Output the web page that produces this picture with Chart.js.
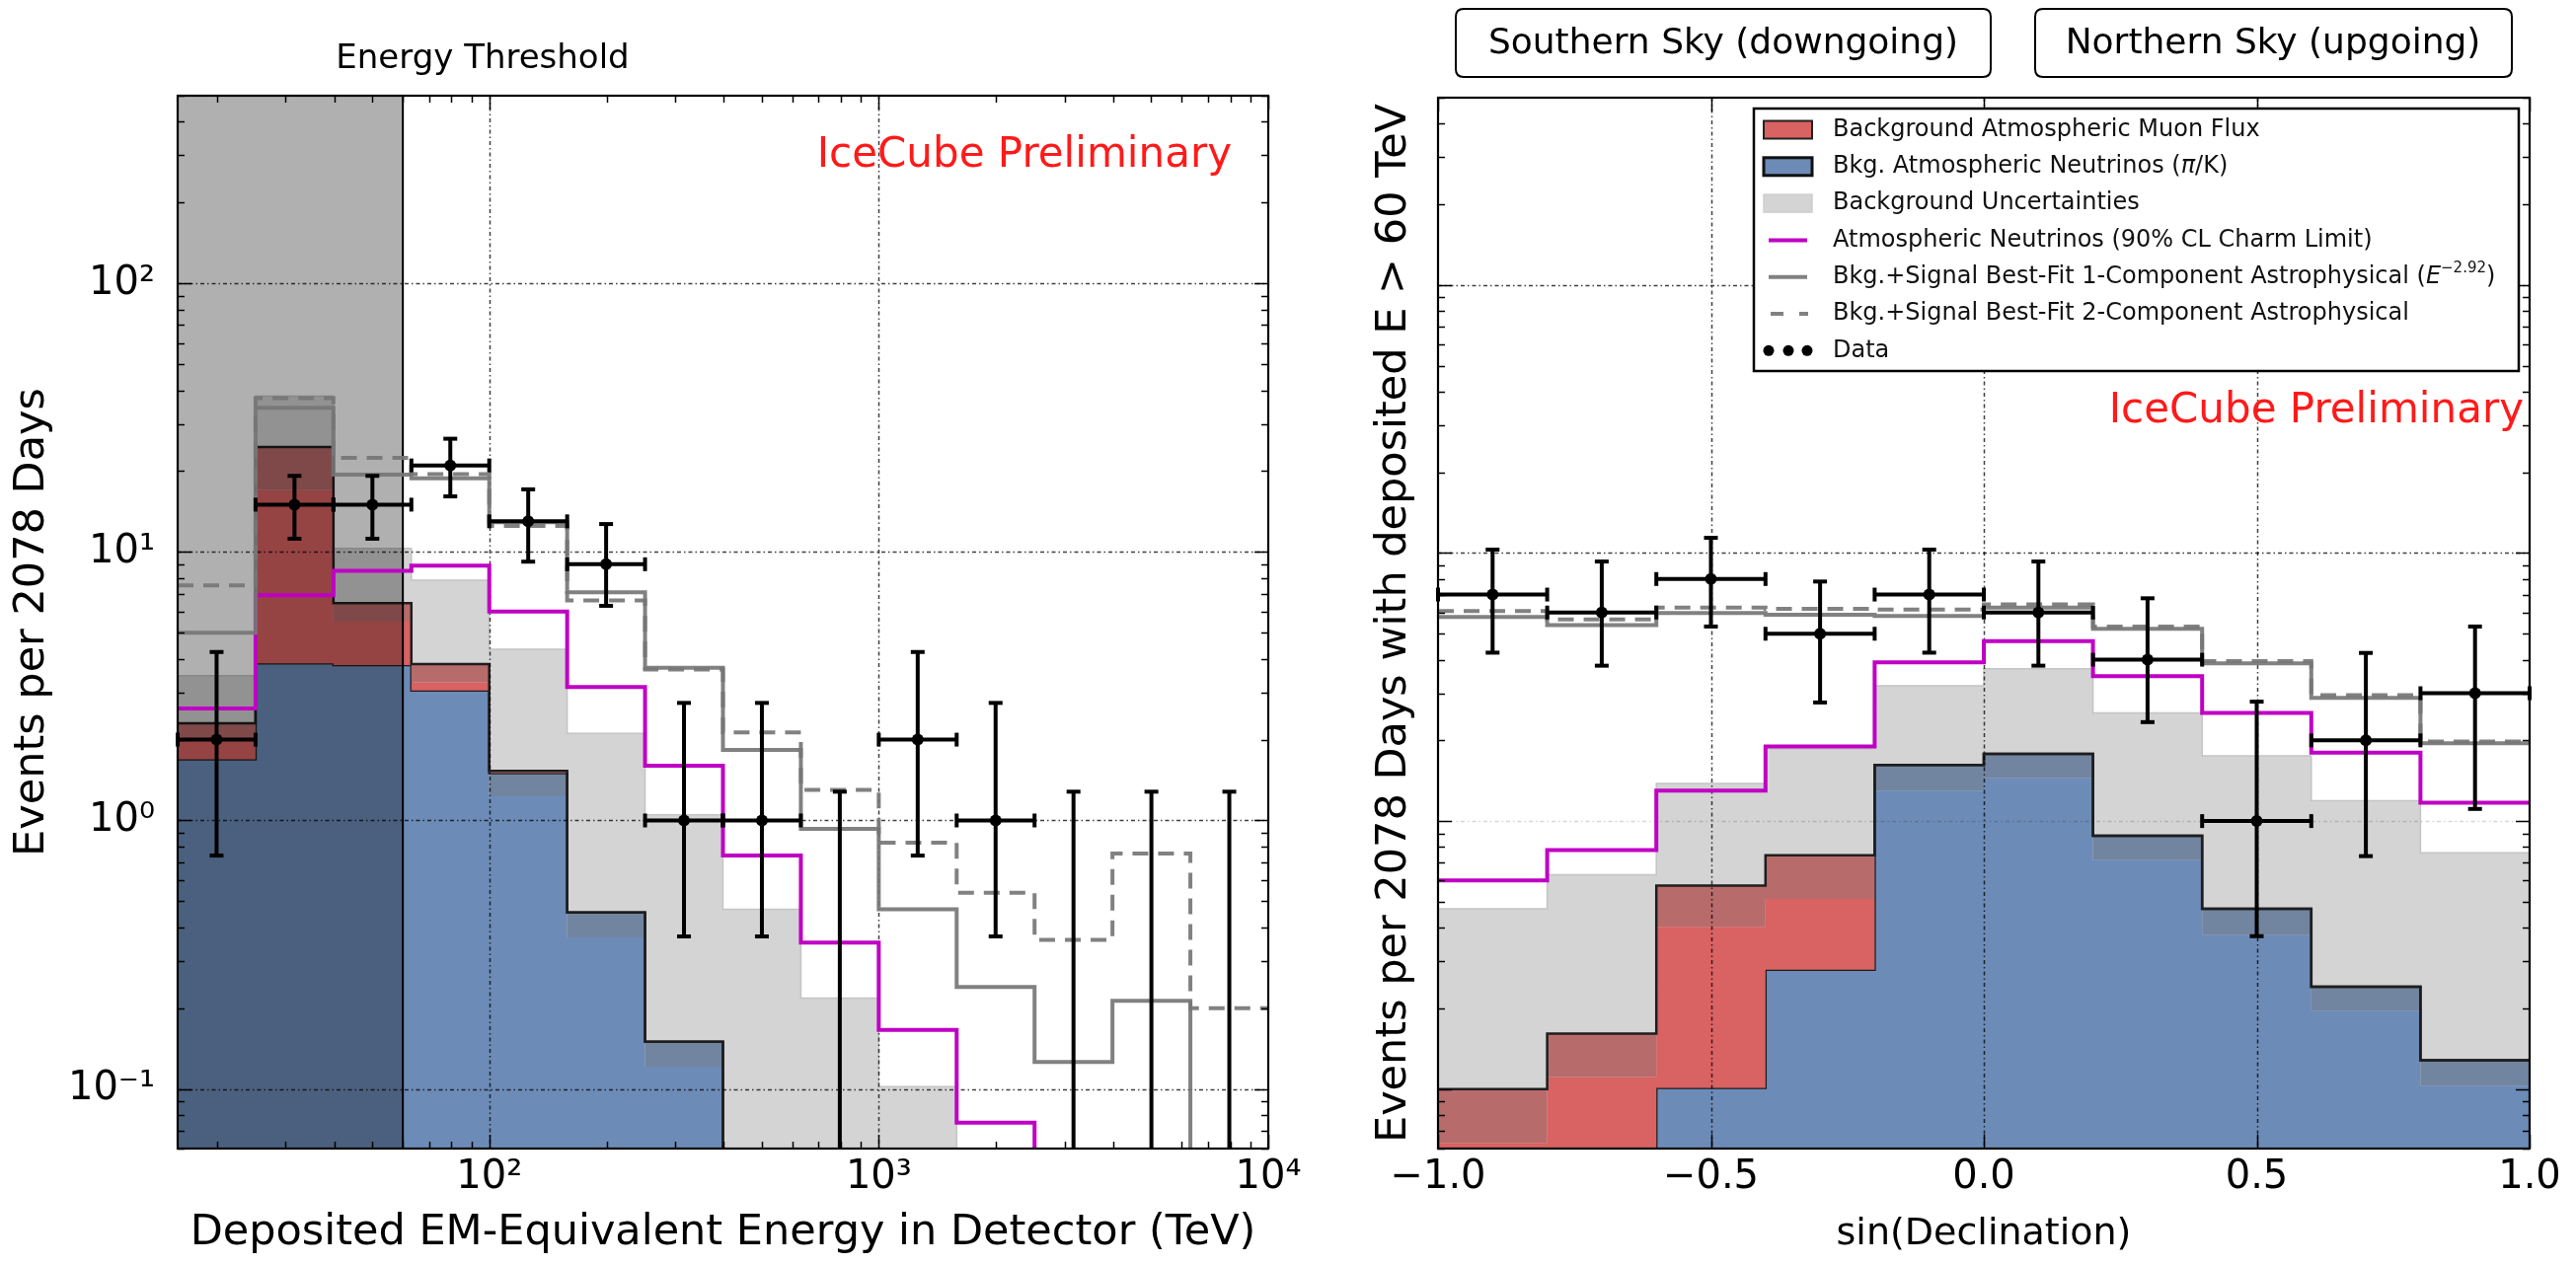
<!DOCTYPE html>
<html>
<head>
<meta charset="utf-8">
<title>HESE events: deposited energy and declination</title>
<script src="https://cdn.jsdelivr.net/npm/chart.js@4.4.1/dist/chart.umd.min.js"></script>
<style>
  html, body { margin: 0; padding: 0; background: #fff; }
  #wrap { position: relative; width: 2610px; height: 1282px; overflow: hidden; }
  #energy { position: absolute; left: 0; top: 0; }
  #dec { position: absolute; left: 1340px; top: 0; }
</style>
</head>
<body>
<div id="wrap">
  <canvas id="energy" width="1340" height="1282"></canvas>
  <canvas id="dec" width="1270" height="1282"></canvas>
</div>
<script>
var FONT = "'DejaVu Sans', 'Noto Sans', sans-serif";
var FLOOR = 1e-4;   // empty bins sit below the log axis floor

// ---------- energy spectrum (0.2 decade bins, TeV) ----------
var eEdges = [15.85, 25.12, 39.81, 63.10, 100, 158.5, 251.2, 398.1, 631.0, 1000, 1585, 2512, 3981, 6310, 10000];
var eThreshold = 60;
var eBkgUnc   = [3.46, 38, 10.3, 7.85, 4.34, 2.11, 1.05, 0.467, 0.218, 0.102, 0, 0, 0, 0];
var eNuLow    = [1.69, 3.85, 3.79, 3.05, 1.23, 0.367, 0.121, 0, 0, 0, 0, 0, 0, 0];
var eNuTop    = [1.69, 3.85, 3.79, 3.05, 1.50, 0.454, 0.150, 0, 0, 0, 0, 0, 0, 0];
var eMuLow    = [2.0, 17.0, 5.5, 3.27, 1.50, 0.454, 0.150, 0, 0, 0, 0, 0, 0, 0];
var eMuTop    = [2.3, 24.6, 6.44, 3.82, 1.53, 0.454, 0.150, 0, 0, 0, 0, 0, 0, 0];
var eCharm    = [2.61, 6.9, 8.5, 8.9, 6.0, 3.14, 1.6, 0.741, 0.351, 0.166, 0.075, 0, 0, 0];
var eFit1     = [5.0, 34.4, 19.4, 18.8, 12.9, 7.07, 3.7, 1.83, 0.93, 0.467, 0.24, 0.126, 0.213, 0];
var eFit2     = [7.5, 37.4, 22.4, 19.5, 12.5, 6.6, 3.65, 2.13, 1.30, 0.826, 0.538, 0.359, 0.753, 0.20];
var eCounts   = [2, 15, 15, 21, 13, 9, 1, 1, 0, 2, 1, 0, 0, 0];
var eCountsLo = [0.74, 11.2, 11.2, 16.1, 9.2, 6.3, 0.37, 0.37, 0, 0.74, 0.37, 0, 0, 0];
var eCountsHi = [4.24, 19.2, 19.2, 26.4, 17.1, 12.7, 2.74, 2.74, 1.28, 4.24, 2.74, 1.28, 1.28, 1.28];

// ---------- sin(declination), E > 60 TeV ----------
var dEdges = [-1.0, -0.8, -0.6, -0.4, -0.2, 0.0, 0.2, 0.4, 0.6, 0.8, 1.0];
var dBkgUnc   = [0.471, 0.63, 1.38, 1.86, 3.2, 3.7, 2.53, 1.75, 1.19, 0.762];
var dNuLow    = [0, 0, 0.101, 0.279, 1.30, 1.45, 0.714, 0.375, 0.196, 0.103];
var dNuTop    = [0, 0, 0.101, 0.279, 1.62, 1.78, 0.881, 0.471, 0.241, 0.128];
var dMuLow    = [0.063, 0.111, 0.403, 0.512, 1.62, 1.78, 0.881, 0.471, 0.241, 0.128];
var dMuTop    = [0.100, 0.161, 0.575, 0.746, 1.62, 1.78, 0.881, 0.471, 0.241, 0.128];
var dCharm    = [0.60, 0.78, 1.30, 1.90, 3.91, 4.69, 3.47, 2.53, 1.80, 1.17];
var dFit1     = [5.78, 5.38, 5.97, 5.89, 5.82, 6.26, 5.22, 3.88, 2.88, 1.95];
var dFit2     = [6.08, 5.66, 6.26, 6.2, 6.15, 6.44, 5.32, 3.95, 2.95, 1.98];
var dCounts   = [7, 6, 8, 5, 7, 6, 4, 1, 2, 3];
var dCountsLo = [4.25, 3.8, 5.32, 2.77, 4.25, 3.8, 2.34, 0.372, 0.74, 1.11];
var dCountsHi = [10.3, 9.3, 11.4, 7.83, 10.3, 9.3, 6.78, 2.79, 4.24, 5.32];

var yMin = 0.06, yMax = 500;

var legendLabels = [
  'Background Atmospheric Muon Flux',
  'Bkg. Atmospheric Neutrinos (π/K)',
  'Background Uncertainties',
  'Atmospheric Neutrinos (90% CL Charm Limit)',
  'Bkg.+Signal Best-Fit 1-Component Astrophysical (E−2.92)',
  'Bkg.+Signal Best-Fit 2-Component Astrophysical',
  'Data'
];

var C = {
  band: '#d4d4d4', bandEdge: '#c4c4c4',
  blue: '#6c8bb7', blueBand: '#7185a1',
  red: '#d96262', redBand: '#b86b6b',
  edge: '#1e1e1e', magenta: '#bf00c4',
  fit: 'rgba(118,118,118,0.92)', shade: 'rgba(0,0,0,0.31)',
  label: '#ff1a1a'
};

function stepData(edges, vals) {
  var pts = vals.map(function (v, i) { return { x: edges[i], y: v > 0 ? v : FLOOR }; });
  pts.push({ x: edges[edges.length - 1], y: pts[pts.length - 1].y });
  return pts;
}

function histSet(edges, vals, opts) {
  var ds = { data: stepData(edges, vals), stepped: true, tension: 0, pointRadius: 0,
             borderWidth: 0, borderColor: 'rgba(0,0,0,0)', fill: false };
  for (var k in opts) ds[k] = opts[k];
  return ds;
}

function pointSet(centers, counts) {
  var pts = [];
  counts.forEach(function (n, i) { if (n > 0) pts.push({ x: centers[i], y: n }); });
  return { data: pts, showLine: false, pointRadius: 6, pointBackgroundColor: '#000',
           pointBorderWidth: 0, order: 1 };
}

// stacked background (nu + muon) with bands, plus model lines
function modelSets(edges, bkg, nuLow, nuTop, muLow, muTop, charm, fit1, fit2, extra) {
  var sets = [
    histSet(edges, bkg,   { order: 20, fill: 'start', backgroundColor: C.band, borderColor: C.bandEdge, borderWidth: 1.5 }),
    histSet(edges, nuLow, { order: 19, fill: 'start', backgroundColor: C.blue }),
    histSet(edges, nuTop, { order: 18, fill: 1, backgroundColor: C.blueBand, borderColor: C.edge, borderWidth: 2.5 }),
    histSet(edges, muLow, { order: 17, fill: 2, backgroundColor: C.red }),
    histSet(edges, muTop, { order: 16, fill: 3, backgroundColor: C.redBand, borderColor: C.edge, borderWidth: 2.5 })
  ];
  if (extra) sets.push(extra);
  sets.push(histSet(edges, charm, { order: 5, id: 'charm', borderColor: C.magenta, borderWidth: 4 }));
  sets.push(histSet(edges, fit1,  { order: 4, borderColor: C.fit, borderWidth: 4 }));
  sets.push(histSet(edges, fit2,  { order: 3, borderColor: C.fit, borderWidth: 4, borderDash: [16, 10] }));
  return sets;
}

var SUP = { '-': '⁻', '0': '⁰', '1': '¹', '2': '²', '3': '³', '4': '⁴', '5': '⁵', '6': '⁶', '7': '⁷', '8': '⁸', '9': '⁹' };
function decadeLabel(value) {
  var l = Math.log10(value), r = Math.round(l);
  if (Math.abs(l - r) > 1e-6) return '';
  return '10' + String(r).split('').map(function (c) { return SUP[c]; }).join('');
}

function logTickValues(min, max) {
  var major = [], minor = [];
  for (var n = Math.floor(Math.log10(min)); n <= Math.ceil(Math.log10(max)); n++) {
    for (var k = 1; k <= 9; k++) {
      var v = k * Math.pow(10, n);
      if (v < min * 0.999 || v > max * 1.001) continue;
      (k === 1 ? major : minor).push(v);
    }
  }
  return { major: major, minor: minor };
}

function clipArea(ctx, a) {
  ctx.beginPath();
  ctx.rect(a.left, a.top, a.right - a.left, a.bottom - a.top);
  ctx.clip();
}

function seg(ctx, x0, y0, x1, y1) {
  ctx.beginPath(); ctx.moveTo(x0, y0); ctx.lineTo(x1, y1); ctx.stroke();
}

function drawGrid(chart, xs, ys, faintYs) {
  var ctx = chart.ctx, a = chart.chartArea, sx = chart.scales.x, sy = chart.scales.y;
  ctx.save();
  clipArea(ctx, a);
  ctx.lineWidth = 1.5;
  ctx.setLineDash([4, 3, 1.5, 3]);
  ctx.strokeStyle = 'rgba(0,0,0,0.75)';
  xs.forEach(function (v) { var p = Math.round(sx.getPixelForValue(v)) + 0.5; seg(ctx, p, a.top, p, a.bottom); });
  ys.forEach(function (v) {
    var p = Math.round(sy.getPixelForValue(v)) + 0.5;
    ctx.strokeStyle = faintYs.indexOf(v) >= 0 ? 'rgba(0,0,0,0.16)' : 'rgba(0,0,0,0.75)';
    seg(ctx, a.left, p, a.right, p);
  });
  ctx.restore();
}

function drawFrameTicks(chart, xt, yt) {
  var ctx = chart.ctx, a = chart.chartArea, sx = chart.scales.x, sy = chart.scales.y;
  ctx.save();
  ctx.strokeStyle = '#000';
  ctx.lineWidth = 1.5;
  [[xt.major, 14], [xt.minor, 7]].forEach(function (g) {
    g[0].forEach(function (v) {
      var p = Math.round(sx.getPixelForValue(v)) + 0.5;
      seg(ctx, p, a.bottom, p, a.bottom - g[1]);
      seg(ctx, p, a.top, p, a.top + g[1]);
    });
  });
  [[yt.major, 14], [yt.minor, 7]].forEach(function (g) {
    g[0].forEach(function (v) {
      var p = Math.round(sy.getPixelForValue(v)) + 0.5;
      seg(ctx, a.left, p, a.left + g[1], p);
      seg(ctx, a.right, p, a.right - g[1], p);
    });
  });
  ctx.lineWidth = 2.2;
  ctx.strokeRect(a.left, a.top, a.right - a.left, a.bottom - a.top);
  ctx.restore();
}

function drawErrorBars(chart, edges, centers, counts, lo, hi) {
  var ctx = chart.ctx, a = chart.chartArea, sx = chart.scales.x, sy = chart.scales.y;
  var cap = 7;
  ctx.save();
  ctx.beginPath();
  ctx.rect(a.left - 10, a.top, a.right - a.left + 20, a.bottom - a.top);
  ctx.clip();
  ctx.strokeStyle = '#000';
  ctx.lineWidth = 4;
  counts.forEach(function (n, i) {
    var xc = sx.getPixelForValue(centers[i]);
    var yHi = sy.getPixelForValue(hi[i]);
    var yLo = n > 0 ? sy.getPixelForValue(lo[i]) : a.bottom;
    seg(ctx, xc, yLo, xc, yHi);
    seg(ctx, xc - cap, yHi, xc + cap, yHi);
    if (n > 0) {
      seg(ctx, xc - cap, yLo, xc + cap, yLo);
      var y = sy.getPixelForValue(n);
      var x0 = sx.getPixelForValue(edges[i]), x1 = sx.getPixelForValue(edges[i + 1]);
      seg(ctx, x0, y, x1, y);
      seg(ctx, x0, y - cap, x0, y + cap);
      seg(ctx, x1, y - cap, x1, y + cap);
    }
  });
  ctx.restore();
}

function label(ctx, str, x, y, size, color, align, style) {
  ctx.save();
  ctx.font = (style || '') + ' ' + size + 'px ' + FONT;
  ctx.fillStyle = color || '#000';
  ctx.textAlign = align || 'left';
  ctx.textBaseline = 'middle';
  ctx.fillText(str, x, y);
  ctx.restore();
}

function roundBox(ctx, x0, y0, x1, y1, r) {
  ctx.beginPath();
  ctx.moveTo(x0 + r, y0);
  ctx.lineTo(x1 - r, y0); ctx.quadraticCurveTo(x1, y0, x1, y0 + r);
  ctx.lineTo(x1, y1 - r); ctx.quadraticCurveTo(x1, y1, x1 - r, y1);
  ctx.lineTo(x0 + r, y1); ctx.quadraticCurveTo(x0, y1, x0, y1 - r);
  ctx.lineTo(x0, y0 + r); ctx.quadraticCurveTo(x0, y0, x0 + r, y0);
  ctx.closePath();
}

// legend text with an italic symbol / superscript where needed
function richText(ctx, parts, x, y) {
  parts.forEach(function (p) {
    ctx.font = (p.italic ? 'italic ' : '') + p.size + 'px ' + FONT;
    ctx.fillText(p.t, x, y - (p.rise || 0));
    x += ctx.measureText(p.t).width;
  });
}

function drawLegend(ctx) {
  var L = 437, T = 110, R = 1212, B = 376;
  var hx0 = 447, hx1 = 496, tx = 517, fs = 24;
  ctx.save();
  ctx.fillStyle = '#fff';
  ctx.fillRect(L, T, R - L, B - T);
  ctx.strokeStyle = '#000';
  ctx.lineWidth = 2.5;
  ctx.strokeRect(L, T, R - L, B - T);

  var rows = legendLabels.map(function (s, i) { return 131.5 + 37.3 * i; });
  function patch(y, fillC, edgeC, w) {
    ctx.fillStyle = fillC; ctx.fillRect(hx0, y - 9, hx1 - hx0, 18);
    ctx.strokeStyle = edgeC; ctx.lineWidth = w; ctx.strokeRect(hx0, y - 9, hx1 - hx0, 18);
  }
  patch(rows[0], C.red, '#222', 2);
  patch(rows[1], C.blue, '#111', 3);
  patch(rows[2], C.band, '#cfcfcf', 1.5);
  ctx.lineWidth = 4;
  ctx.strokeStyle = C.magenta; seg(ctx, 452, rows[3], 491, rows[3]);
  ctx.strokeStyle = C.fit; seg(ctx, 452, rows[4], 491, rows[4]);
  ctx.setLineDash([13, 16]); seg(ctx, 454, rows[5], 492, rows[5]); ctx.setLineDash([]);
  ctx.fillStyle = '#000';
  [452, 472, 491].forEach(function (x) { ctx.beginPath(); ctx.arc(x, rows[6], 5.5, 0, 2 * Math.PI); ctx.fill(); });

  ctx.fillStyle = '#111';
  ctx.textAlign = 'left';
  ctx.textBaseline = 'middle';
  ctx.font = fs + 'px ' + FONT;
  ctx.fillText(legendLabels[0], tx, rows[0]);
  richText(ctx, [{ t: 'Bkg. Atmospheric Neutrinos (', size: fs }, { t: 'π', size: fs, italic: true }, { t: '/K)', size: fs }], tx, rows[1]);
  ctx.font = fs + 'px ' + FONT;
  ctx.fillText(legendLabels[2], tx, rows[2]);
  ctx.fillText(legendLabels[3], tx, rows[3]);
  richText(ctx, [{ t: 'Bkg.+Signal Best-Fit 1-Component Astrophysical (', size: fs },
                 { t: 'E', size: fs, italic: true }, { t: '−2.92', size: 15, rise: 9 }, { t: ')', size: fs }], tx, rows[4]);
  ctx.font = fs + 'px ' + FONT;
  ctx.fillText(legendLabels[5], tx, rows[5]);
  ctx.fillText(legendLabels[6], tx, rows[6]);
  ctx.restore();
}

function baseOptions(pad) {
  return {
    responsive: false,
    animation: false,
    events: [],
    layout: { padding: pad },
    plugins: { legend: { display: false }, tooltip: { enabled: false } },
    elements: { line: { tension: 0 } }
  };
}

var tickFont = { family: FONT, size: 40 };
var titleFont = { family: FONT, size: 43 };

// ---------- left panel: energy ----------
var eCenters = eCounts.map(function (n, i) { return Math.sqrt(eEdges[i] * eEdges[i + 1]); });
var thresholdShade = {
  data: [{ x: eEdges[0], y: 1e4 }, { x: eThreshold, y: 1e4 }, { x: eThreshold, y: FLOOR }],
  order: 15, fill: 'start', backgroundColor: C.shade, borderColor: '#000', borderWidth: 2,
  pointRadius: 0, tension: 0
};
var eSets = modelSets(eEdges, eBkgUnc, eNuLow, eNuTop, eMuLow, eMuTop, eCharm, eFit1, eFit2, thresholdShade);
eSets.push(pointSet(eCenters, eCounts));

var eOpts = baseOptions({ left: 0, right: 55, top: 97, bottom: 0 });
eOpts.scales = {
  x: {
    type: 'logarithmic', min: eEdges[0], max: eEdges[eEdges.length - 1],
    grid: { display: false, drawTicks: false }, border: { display: false },
    ticks: { autoSkip: false, maxRotation: 0, padding: 6, color: '#000', font: tickFont, callback: decadeLabel },
    title: { display: true, text: 'Deposited EM-Equivalent Energy in Detector (TeV)', color: '#000', font: titleFont, padding: { top: 0, bottom: 6 } },
    afterFit: function (s) { s.height = 118; }
  },
  y: {
    type: 'logarithmic', min: yMin, max: yMax,
    grid: { display: false, drawTicks: false }, border: { display: false },
    ticks: { autoSkip: false, padding: 23, color: '#000', font: tickFont, callback: decadeLabel },
    title: { display: true, text: 'Events per 2078 Days', color: '#000', font: titleFont, padding: { top: 7, bottom: 0 } },
    afterFit: function (s) { s.width = 180; }
  }
};

var energyDecor = {
  id: 'energyDecor',
  beforeDatasetDraw: function (chart, args) {
    if (chart.data.datasets[args.index].id === 'charm') drawGrid(chart, [100, 1000], [0.1, 1, 10, 100], []);
  },
  afterDatasetsDraw: function (chart) {
    drawErrorBars(chart, eEdges, eCenters, eCounts, eCountsLo, eCountsHi);
  },
  afterDraw: function (chart) {
    var ctx = chart.ctx;
    drawFrameTicks(chart, logTickValues(eEdges[0], eEdges[eEdges.length - 1]), logTickValues(yMin, yMax));
    label(ctx, 'Energy Threshold', 489, 60, 34, '#000', 'center');
    label(ctx, 'IceCube Preliminary', 1248, 158, 42, C.label, 'right');
  }
};

new Chart(document.getElementById('energy'), {
  type: 'line',
  data: { datasets: eSets },
  options: eOpts,
  plugins: [energyDecor]
});

// ---------- right panel: sin(declination) ----------
var dCenters = dCounts.map(function (n, i) { return (dEdges[i] + dEdges[i + 1]) / 2; });
var dSets = modelSets(dEdges, dBkgUnc, dNuLow, dNuTop, dMuLow, dMuTop, dCharm, dFit1, dFit2, null);
dSets.push(pointSet(dCenters, dCounts));

var dOpts = baseOptions({ left: 0, right: 47, top: 99, bottom: 0 });
dOpts.scales = {
  x: {
    type: 'linear', min: -1, max: 1,
    grid: { display: false, drawTicks: false }, border: { display: false },
    ticks: { stepSize: 0.5, autoSkip: false, maxRotation: 0, padding: 6, color: '#000', font: tickFont,
             callback: function (v) { return (v < 0 ? '−' : '') + Math.abs(v).toFixed(1); } },
    title: { display: true, text: 'sin(Declination)', color: '#000', font: { family: FONT, size: 38 }, padding: { top: 0, bottom: 8 } },
    afterFit: function (s) { s.height = 118; }
  },
  y: {
    type: 'logarithmic', min: yMin, max: yMax,
    grid: { display: false, drawTicks: false }, border: { display: false },
    ticks: { display: false },
    title: { display: true, text: 'Events per 2078 Days with deposited E > 60 TeV', color: '#000', font: titleFont, padding: { top: 47, bottom: 0 } },
    afterFit: function (s) { s.width = 117; }
  }
};

var decDecor = {
  id: 'decDecor',
  beforeDatasetDraw: function (chart, args) {
    if (chart.data.datasets[args.index].id === 'charm') drawGrid(chart, [-0.5, 0, 0.5], [1, 10, 100], [1]);
  },
  afterDatasetsDraw: function (chart) {
    drawErrorBars(chart, dEdges, dCenters, dCounts, dCountsLo, dCountsHi);
  },
  afterDraw: function (chart) {
    var ctx = chart.ctx;
    drawFrameTicks(chart, { major: [-1, -0.5, 0, 0.5, 1], minor: [] }, logTickValues(yMin, yMax));
    drawLegend(ctx);
    label(ctx, 'IceCube Preliminary', 1217, 417, 42, C.label, 'right');
    ctx.save();
    ctx.strokeStyle = '#000';
    ctx.lineWidth = 2;
    roundBox(ctx, 135, 9, 677, 78, 8); ctx.stroke();
    roundBox(ctx, 722, 9, 1205, 78, 8); ctx.stroke();
    ctx.restore();
    label(ctx, 'Southern Sky (downgoing)', 406, 45, 36, '#000', 'center');
    label(ctx, 'Northern Sky (upgoing)', 963, 45, 36, '#000', 'center');
  }
};

new Chart(document.getElementById('dec'), {
  type: 'line',
  data: { datasets: dSets },
  options: dOpts,
  plugins: [decDecor]
});
</script>
</body>
</html>
